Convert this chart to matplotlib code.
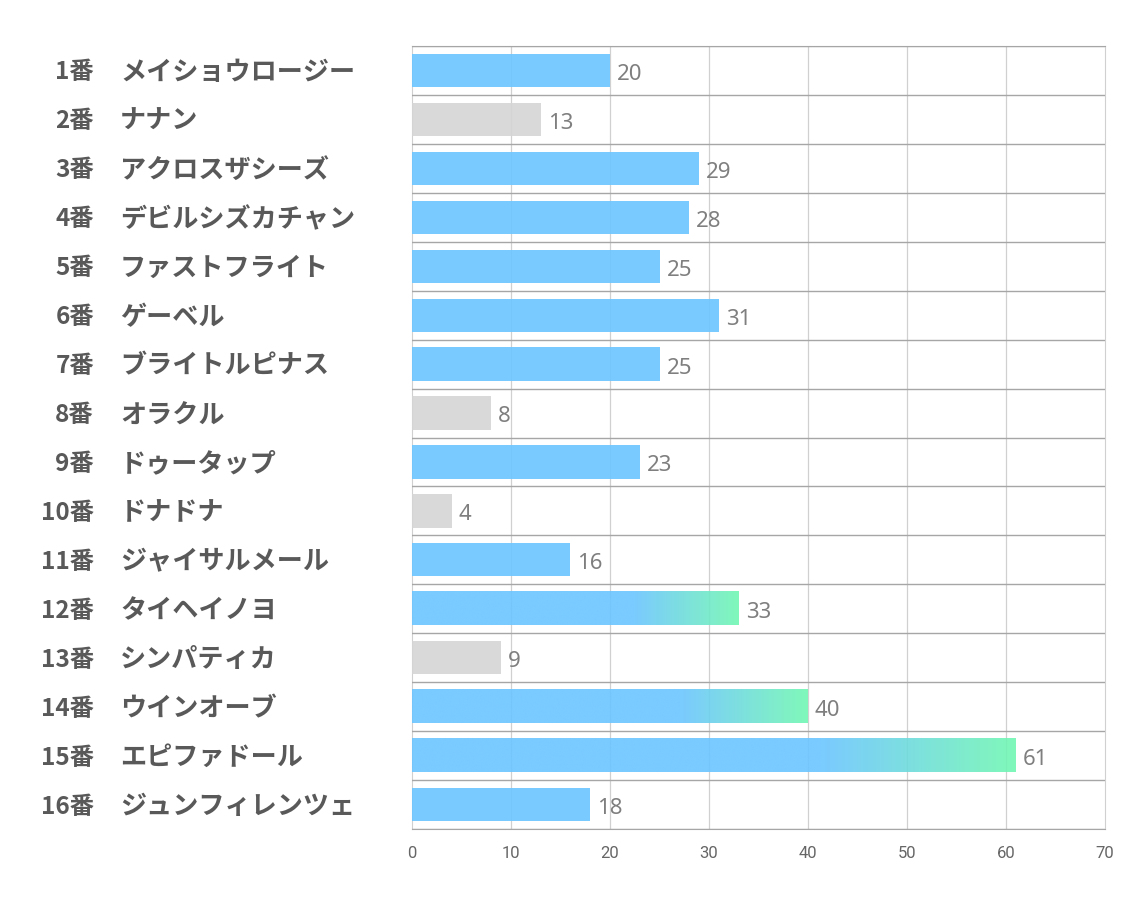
import matplotlib
matplotlib.use("Agg")
import matplotlib.pyplot as plt
import numpy as np
from matplotlib.colors import to_rgb

plt.rcParams['font.family'] = ['Noto Sans CJK JP', 'DejaVu Sans']

numbers = ["1番", "2番", "3番", "4番", "5番", "6番", "7番", "8番", "9番", "10番",
           "11番", "12番", "13番", "14番", "15番", "16番"]
names = ["メイショウロージー", "ナナン", "アクロスザシーズ", "デビルシズカチャン",
         "ファストフライト", "ゲーベル", "ブライトルピナス", "オラクル", "ドゥータップ",
         "ドナドナ", "ジャイサルメール", "タイヘイノヨ", "シンパティカ", "ウインオーブ",
         "エピファドール", "ジュンフィレンツェ"]
values = [20, 13, 29, 28, 25, 31, 25, 8, 23, 4, 16, 33, 9, 40, 61, 18]
kind = ["blue", "gray", "blue", "blue", "blue", "blue", "blue", "gray", "blue", "gray",
        "blue", "grad", "gray", "grad", "grad", "blue"]
xticks = [0, 10, 20, 30, 40, 50, 60, 70]

BLUE = "#6BC5FF"
GREEN = "#72F7B3"
GRAY = "#D5D5D5"
ALPHA = 0.9

fig = plt.figure(figsize=(11.34, 9.07), dpi=100)
ax = fig.add_axes([412/1134, 1-829/907, (1105-412)/1134, (829-46)/907])

n = len(values)
h = 0.68
for i, (v, k) in enumerate(zip(values, kind)):
    if k == "gray":
        ax.barh(i, v, height=h, color=GRAY, alpha=ALPHA, zorder=3)
    elif k == "blue":
        ax.barh(i, v, height=h, color=BLUE, alpha=ALPHA, zorder=3)
    else:
        N = 256
        t = np.linspace(0, 1, N)
        start = 0.68
        f = np.clip((t - start) / (1 - start), 0, 1)
        c0 = np.array(to_rgb(BLUE)); c1 = np.array(to_rgb(GREEN))
        cols = c0[None, :] * (1 - f[:, None]) + c1[None, :] * f[:, None]
        img = cols[None, :, :]
        ax.imshow(img, extent=[0, v, i + h/2, i - h/2], aspect='auto',
                  interpolation='bilinear', alpha=ALPHA, zorder=3)
    ax.text(v + 0.7, i + 0.08, str(v), va='center', ha='left', fontsize=16,
            color='#7F7F7F', family=['Noto Sans', 'DejaVu Sans'])

ax.set_xlim(0, 70)
ax.set_ylim(n - 0.5, -0.5)
ax.set_xticks(xticks)
ax.set_xticklabels([str(x) for x in xticks], fontsize=12, color='#666666',
                   family=['Liberation Sans Narrow', 'Roboto', 'DejaVu Sans'])
ax.tick_params(axis='x', length=0, pad=12)
ax.set_yticks([])
for x in xticks[1:-1]:
    ax.axvline(x, color='#D0D0D0', lw=0.9, zorder=2)
for b in np.arange(-0.5, n, 1.0):
    ax.axhline(b, color='#A6A6A6', lw=1.0, zorder=4)
for s in ['top', 'bottom']:
    ax.spines[s].set_color('#A6A6A6')
for s in ['left', 'right']:
    ax.spines[s].set_color('#D0D0D0')

# left labels
for i in range(n):
    yfig = 1 - (48 + (i + 0.5) * (829 - 46) / n) / 907
    fig.text(94/1134, yfig, numbers[i], ha='right', va='center', fontsize=17.5,
             fontweight='bold', color='#595959')
    fig.text(120/1134, yfig, names[i], ha='left', va='center', fontsize=18.8,
             fontweight='bold', color='#595959')

fig.savefig("out.png", dpi=100)
